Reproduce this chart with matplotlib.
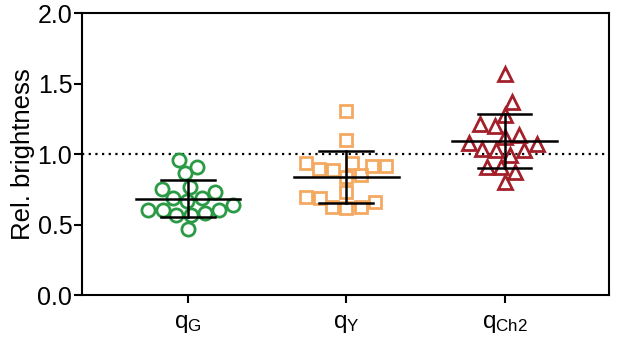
import numpy as np
import matplotlib
matplotlib.use('Agg')
import matplotlib.pyplot as plt

plt.rcParams['font.family'] = ['Liberation Sans', 'DejaVu Sans']
plt.rcParams['mathtext.fontset'] = 'custom'
plt.rcParams['mathtext.rm'] = 'Liberation Sans'
plt.rcParams['mathtext.it'] = 'Liberation Sans'

# data
labels = [r'$\mathrm{q_{G}}$', r'$\mathrm{q_{Y}}$', r'$\mathrm{q_{Ch2}}$']
q_g = [0.957, 0.91, 0.863, 0.768, 0.75, 0.733, 0.686, 0.686, 0.667, 0.638,
       0.603, 0.603, 0.603, 0.579, 0.567, 0.567, 0.466]
q_y = [1.305, 1.099, 0.934, 0.917, 0.894, 0.917, 0.934, 0.887, 0.851, 0.839,
       0.733, 0.686, 0.626, 0.615, 0.626, 0.657, 0.697]
q_ch2 = [1.565, 1.367, 1.277, 1.21, 1.199, 1.123, 1.135, 1.069, 1.076, 1.028,
         1.035, 1.028, 0.993, 0.91, 0.91, 0.875, 0.804]
groups = [q_g, q_y, q_ch2]
colors = ['#2b9a45', '#f4a961', '#a3202b']
markers = ['o', 's', '^']
msizes = [9.5, 8.5, 9.5]


def swarm(values, diam, sx, sy):
    """simple beeswarm: offsets (data x units) so markers do not overlap"""
    order = np.argsort(values)
    placed = []
    offs = np.zeros(len(values))
    for i in order:
        y = values[i] * sy
        cands = [0.0]
        for (px, py) in placed:
            dy = abs(py - y)
            if dy < diam:
                dx = np.sqrt(diam ** 2 - dy ** 2)
                cands += [px + dx, px - dx]
        cands.sort(key=abs)
        for c in cands:
            if all((c - px) ** 2 + (y - py) ** 2 >= diam ** 2 - 1e-6 for px, py in placed):
                break
        placed.append((c, y))
        offs[i] = c / sx
    return offs


fig = plt.figure(figsize=(6.17, 3.44), dpi=100)
ax = fig.add_axes([0.133, 0.142, 0.854, 0.820])

xlim = (-0.67, 2.66)
ylim = (0.0, 2.0)
# pixel scale of the axes for the swarm layout
sx = 0.854 * 617 / (xlim[1] - xlim[0])
sy = 0.820 * 344 / (ylim[1] - ylim[0])

ax.axhline(1.0, color='black', lw=1.6, ls=(0, (1, 2)), zorder=1)

for k, vals in enumerate(groups):
    vals = np.array(vals)
    offs = swarm(vals, 14.5, sx, sy)
    ax.plot(k + offs, vals, ls='none', marker=markers[k], ms=msizes[k],
            mfc='none', mec=colors[k], mew=2.0, zorder=2)
    m = vals.mean()
    sd = vals.std(ddof=1)
    ax.plot([k - 0.33, k + 0.33], [m, m], color='black', lw=1.8, zorder=3)
    ax.plot([k, k], [m - sd, m + sd], color='black', lw=1.8, zorder=3)
    for v in (m - sd, m + sd):
        ax.plot([k - 0.17, k + 0.17], [v, v], color='black', lw=1.8, zorder=3)

ax.set_xlim(*xlim)
ax.set_ylim(*ylim)
ax.set_xticks(range(3))
ax.set_xticklabels(labels, fontsize=17.5)
ax.set_yticks([0.0, 0.5, 1.0, 1.5, 2.0])
ax.set_yticklabels(['0.0', '0.5', '1.0', '1.5', '2.0'], fontsize=18)
ax.set_ylabel('Rel. brightness', fontsize=18.5, labelpad=2)
for s in ax.spines.values():
    s.set_linewidth(1.5)
ax.tick_params(width=1.5, length=6, pad=1)
ax.tick_params(axis='x', length=6, pad=7)

fig.savefig('out.png', dpi=100)
